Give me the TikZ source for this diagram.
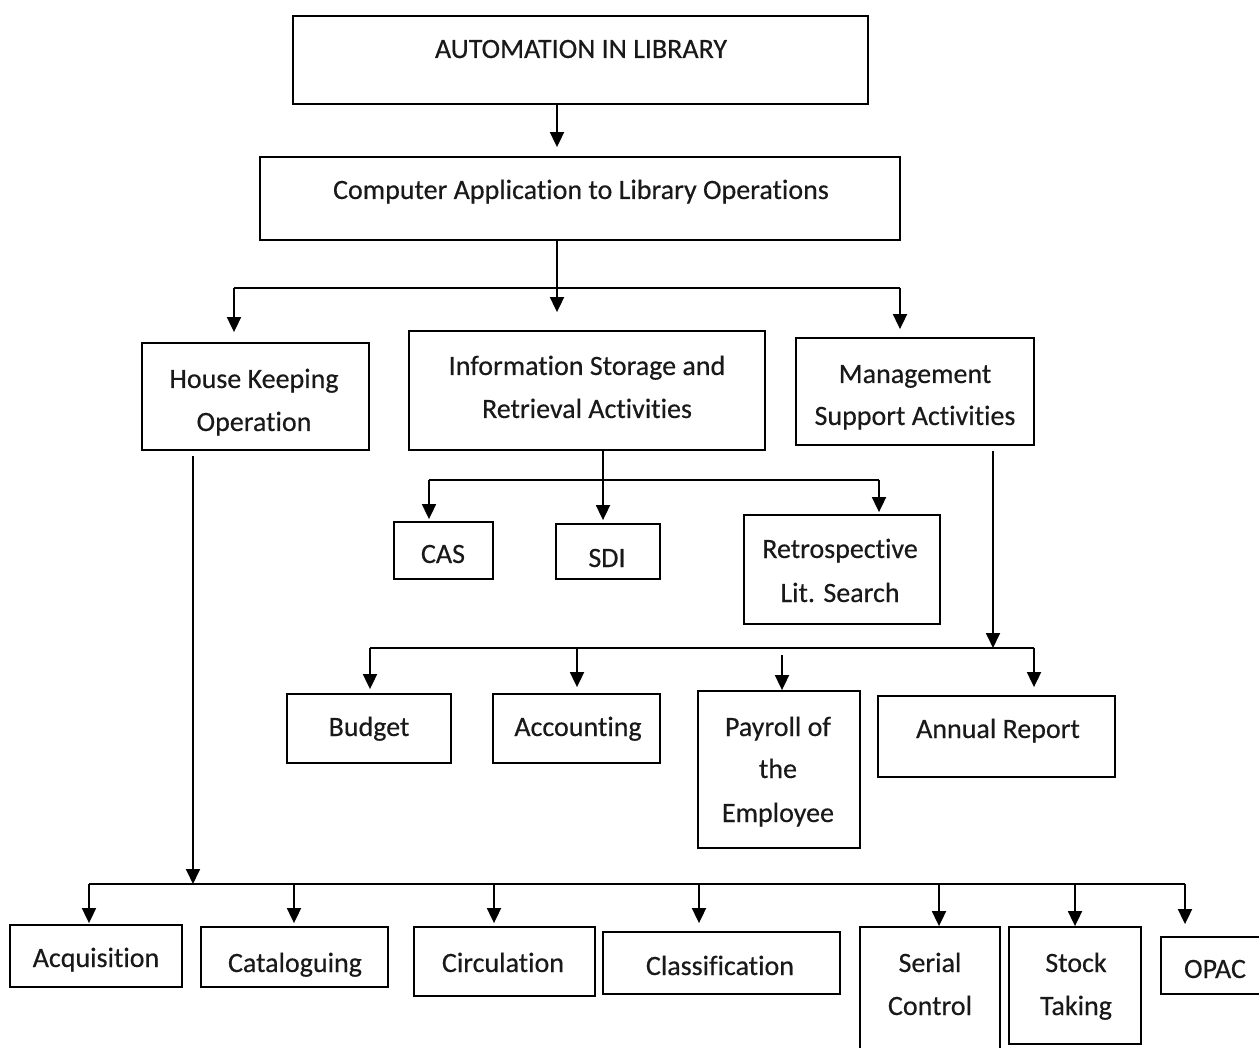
\documentclass[tikz,border=0pt]{standalone}
\usepackage{fontspec}
\setmainfont{Carlito}[Ligatures=NoCommon, FakeBold=0.4]
\usetikzlibrary{arrows.meta,fit}
\begin{document}
\begin{tikzpicture}[x=1pt,y=-1pt,
  box/.style={draw, line width=1.8pt, inner sep=0pt},
  lbl/.style={font=\fontsize{28}{43}\selectfont, inner sep=0pt, anchor=base, text=black!90},
  ln/.style={line width=1.8pt},
  arr/.style={line width=1.8pt, -{Triangle[width=14pt,length=15pt]}}]
\useasboundingbox (0,0) rectangle (1259,1048);
% boxes
\node[box, fit={(293,16) (868,104)}] (top) {};
\node[box, fit={(260,157) (900,240)}] (app) {};
\node[box, fit={(142,343) (369,450)}] (hk) {};
\node[box, fit={(409,331) (765,450)}] (isr) {};
\node[box, fit={(796,338) (1034,445)}] (msa) {};
\node[box, fit={(394,522) (493,579)}] (cas) {};
\node[box, fit={(556,524) (660,579)}] (sdi) {};
\node[box, fit={(744,515) (940,624)}] (retro) {};
\node[box, fit={(287,694) (451,763)}] (budget) {};
\node[box, fit={(493,694) (660,763)}] (acc) {};
\node[box, fit={(698,691) (860,848)}] (pay) {};
\node[box, fit={(878,696) (1115,777)}] (annual) {};
\node[box, fit={(10,925) (182,987)}] (acq) {};
\node[box, fit={(201,927) (388,987)}] (cat) {};
\node[box, fit={(414,927) (595,996)}] (circ) {};
\node[box, fit={(603,932) (840,994)}] (cls) {};
\node[box, fit={(860,927) (1000,1070)}] (ser) {};
\node[box, fit={(1009,927) (1141,1044)}] (stk) {};
\node[box, fit={(1161,937) (1270,994)}] (opac) {};
% labels
\node[lbl] (l1) at (581,58) {AUTOMATION IN LIBRARY};
\node[lbl] (l2) at (581,199) {Computer Application to Library Operations};
\node[lbl] (l3a) at (254,388) {House Keeping};
\node[lbl] (l3b) at (254,431) {Operation};
\node[lbl] (l4a) at (587,375) {Information Storage and};
\node[lbl] (l4b) at (587,418) {Retrieval Activities};
\node[lbl] (l5a) at (915,383) {Management};
\node[lbl] (l5b) at (915,425) {Support Activities};
\node[lbl] (l6) at (443,563) {CAS};
\node[lbl] (l7) at (607,567) {SDI};
\node[lbl] (l8a) at (840,558) {Retrospective};
\node[lbl] (l8b) at (840,602) {Lit. Search};
\node[lbl] (l9) at (369,736) {Budget};
\node[lbl] (l10) at (578,736) {Accounting};
\node[lbl] (l11a) at (778,736) {Payroll of};
\node[lbl] (l11b) at (778,778) {the};
\node[lbl] (l11c) at (778,822) {Employee};
\node[lbl] (l12) at (998,738) {Annual Report};
\node[lbl] (l13) at (96,967) {Acquisition};
\node[lbl] (l14) at (295,972) {Cataloguing};
\node[lbl] (l15) at (503,972) {Circulation};
\node[lbl] (l16) at (720,975) {Classification};
\node[lbl] (l17a) at (930,972) {Serial};
\node[lbl] (l17b) at (930,1015) {Control};
\node[lbl] (l18a) at (1076,972) {Stock};
\node[lbl] (l18b) at (1076,1015) {Taking};
\node[lbl] (l19) at (1215,978) {OPAC};
% coordinates for connectors
\coordinate (x0) at (557,0);
\coordinate (xa) at (557,288);
\coordinate (bl) at (234,288);
\coordinate (br) at (900,288);
\coordinate (xb) at (603,480);
\coordinate (bcl) at (429,480);
\coordinate (bcr) at (879,480);
\coordinate (xc) at (993,648);
\coordinate (bml) at (370,648);
\coordinate (bmr) at (1034,648);
\coordinate (bma) at (577,648);
\coordinate (bmp) at (782,655);
\coordinate (xd) at (193,884);
\coordinate (d1) at (89,884);
\coordinate (d2) at (294,884);
\coordinate (d3) at (494,884);
\coordinate (d4) at (699,884);
\coordinate (d5) at (939,884);
\coordinate (d6) at (1075,884);
\coordinate (d7) at (1185,884);
% connectors
\draw[arr, shorten >=9pt] (top.south -| x0) -- (app.north -| x0);
\draw[arr, shorten >=18pt] (app.south -| xa) -- (isr.north -| xa);
\draw[ln] (bl) -- (br);
\draw[arr, shorten >=10pt] (bl) -- (hk.north -| bl);
\draw[arr, shorten >=8pt] (br) -- (msa.north -| br);
\draw[arr, shorten >=3pt] (isr.south -| xb) -- (sdi.north -| xb);
\draw[ln] (bcl) -- (bcr);
\draw[arr, shorten >=2pt] (bcl) -- (cas.north -| bcl);
\draw[arr, shorten >=2pt] (bcr) -- (retro.north -| bcr);
\draw[arr, shorten <=5pt] (msa.south -| xc) -- (xc);
\draw[ln] (bml) -- (bmr);
\draw[arr, shorten >=4pt] (bml) -- (budget.north -| bml);
\draw[arr, shorten >=6pt] (bma) -- (acc.north -| bma);
\draw[arr] (bmp) -- (pay.north -| bmp);
\draw[arr, shorten >=8pt] (bmr) -- (annual.north -| bmr);
\draw[arr, shorten <=5pt] (hk.south -| xd) -- (xd);
\draw[ln] (d1) -- (d7);
\draw[arr, shorten >=1pt] (d1) -- (acq.north -| d1);
\draw[arr, shorten >=3pt] (d2) -- (cat.north -| d2);
\draw[arr, shorten >=3pt] (d3) -- (circ.north -| d3);
\draw[arr, shorten >=8pt] (d4) -- (cls.north -| d4);
\draw[arr] (d5) -- (ser.north -| d5);
\draw[arr] (d6) -- (stk.north -| d6);
\draw[arr, shorten >=12pt] (d7) -- (opac.north -| d7);
\end{tikzpicture}
\end{document}
